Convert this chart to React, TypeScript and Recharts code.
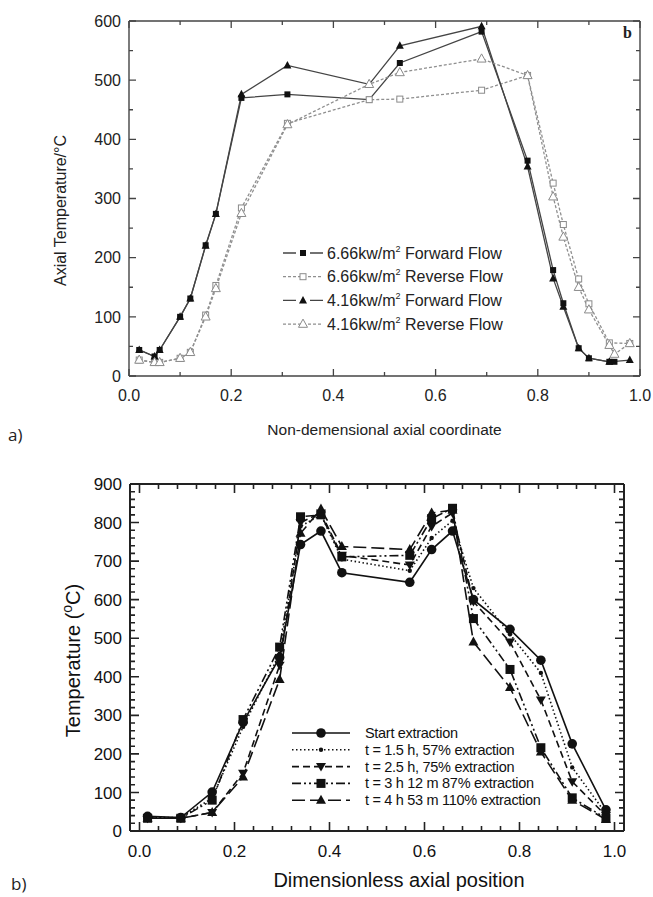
import { LineChart, Line, XAxis, YAxis, Legend, ReferenceLine } from "recharts";

// ---------- a) axial temperature vs non-dimensional coordinate ----------
const fwd666X = [0.02, 0.05, 0.06, 0.1, 0.12, 0.15, 0.17, 0.22, 0.31, 0.47, 0.53, 0.69, 0.78, 0.83, 0.85, 0.88, 0.9, 0.94, 0.95];
const fwd666T = [44, 33, 44, 100, 131, 221, 274, 470, 476, 467, 529, 582, 364, 179, 123, 47, 30, 24, 24];
const rev666X = [0.02, 0.05, 0.06, 0.1, 0.12, 0.15, 0.17, 0.22, 0.31, 0.47, 0.53, 0.69, 0.78, 0.83, 0.85, 0.88, 0.9, 0.94, 0.98];
const rev666T = [27, 23, 23, 30, 40, 103, 153, 284, 427, 467, 468, 483, 508, 326, 256, 164, 122, 56, 55];
const fwd416X = [0.02, 0.05, 0.06, 0.1, 0.12, 0.15, 0.17, 0.22, 0.31, 0.47, 0.53, 0.69, 0.78, 0.83, 0.85, 0.88, 0.9, 0.94, 0.98];
const fwd416T = [44, 33, 44, 100, 131, 220, 274, 476, 525, 493, 558, 591, 354, 165, 117, 47, 30, 24, 27];
const rev416X = [0.02, 0.05, 0.06, 0.1, 0.12, 0.15, 0.17, 0.22, 0.31, 0.47, 0.53, 0.69, 0.78, 0.83, 0.85, 0.88, 0.9, 0.94, 0.95, 0.98];
const rev416T = [27, 23, 23, 30, 40, 100, 148, 275, 425, 493, 513, 536, 508, 303, 235, 150, 112, 52, 37, 55];

const aTicksX = [0, 0.1, 0.2, 0.3, 0.4, 0.5, 0.6, 0.7, 0.8, 0.9, 1];
const aTicksY = [0, 50, 100, 150, 200, 250, 300, 350, 400, 450, 500, 550, 600];

// ---------- b) temperature vs dimensionless axial position ----------
const posB = [0.017, 0.087, 0.153, 0.218, 0.295, 0.339, 0.382, 0.426, 0.569, 0.615, 0.659, 0.703, 0.78, 0.845, 0.911, 0.982];
const startExt = [38, 35, 101, 282, 450, 743, 778, 670, 645, 730, 778, 600, 523, 443, 226, 55];
const t15h = [35, 35, 85, 270, 460, 790, 820, 705, 675, 760, 805, 630, 510, 410, 165, 45];
const t25h = [33, 33, 48, 150, 430, 800, 825, 715, 690, 790, 825, 595, 490, 340, 128, 40];
const t3h12 = [33, 33, 80, 289, 477, 815, 820, 711, 715, 810, 837, 551, 419, 216, 86, 33];
const t4h53 = [33, 33, 48, 140, 393, 772, 835, 738, 730, 825, 832, 490, 372, 205, 80, 30];

// minor tick positions (labels only on the major ones)
const bTicksX = Array.from({ length: 26 }, (_, i) => +(i * 0.04).toFixed(2));
const bTicksY = Array.from({ length: 46 }, (_, i) => i * 20);

const toRows = (xs: number[], ys: number[]) => xs.map((x, i) => ({ x, y: ys[i] }));

const FONT = "'Liberation Sans', Arial, Helvetica, sans-serif";

// chart boxes
const A = { w: 653, h: 440, m: { top: 21, right: 13, bottom: 34, left: 69 }, yw: 60, xh: 30 };
const B = { w: 653, h: 447, m: { top: 34, right: 29, bottom: 36, left: 70 }, yw: 60, xh: 30 };
const plotW = (c: typeof A) => c.w - c.m.left - c.m.right - c.yw;
const plotH = (c: typeof A) => c.h - c.m.top - c.m.bottom - c.xh;

// ---------- markers ----------
const sqFilled = (p: any) => (
  <rect key={p.index} x={p.cx - 3} y={p.cy - 3} width={6} height={6} fill="#111" />
);
const sqOpen = (p: any) => (
  <rect key={p.index} x={p.cx - 3} y={p.cy - 3} width={6} height={6} fill="#fff" stroke="#8a8a8a" strokeWidth={1} />
);
const triFilled = (p: any) => (
  <path key={p.index} d={`M${p.cx},${p.cy - 4.5}L${p.cx - 4},${p.cy + 3}L${p.cx + 4},${p.cy + 3}Z`} fill="#111" />
);
const triOpen = (p: any) => (
  <path key={p.index} d={`M${p.cx},${p.cy - 5}L${p.cx - 4.5},${p.cy + 3.2}L${p.cx + 4.5},${p.cy + 3.2}Z`} fill="#fff" stroke="#8a8a8a" strokeWidth={1} />
);

const bCircle = (p: any) => <circle key={p.index} cx={p.cx} cy={p.cy} r={4.8} fill="#111" />;
const bSmall = (p: any) => <circle key={p.index} cx={p.cx} cy={p.cy} r={2.2} fill="#111" />;
const bTriDown = (p: any) => (
  <path key={p.index} d={`M${p.cx},${p.cy + 5}L${p.cx - 5},${p.cy - 3.5}L${p.cx + 5},${p.cy - 3.5}Z`} fill="#111" />
);
const bSquare = (p: any) => <rect key={p.index} x={p.cx - 4.5} y={p.cy - 4.5} width={9} height={9} fill="#111" />;
const bTriUp = (p: any) => (
  <path key={p.index} d={`M${p.cx},${p.cy - 5.5}L${p.cx - 5},${p.cy + 3.5}L${p.cx + 5},${p.cy + 3.5}Z`} fill="#111" />
);

const seriesA = [
  { name: "6.66kw/m", rest: " Forward Flow", data: toRows(fwd666X, fwd666T), stroke: "#444", dash: undefined, dot: sqFilled },
  { name: "6.66kw/m", rest: " Reverse Flow", data: toRows(rev666X, rev666T), stroke: "#8f8f8f", dash: "3 2", dot: sqOpen },
  { name: "4.16kw/m", rest: " Forward Flow", data: toRows(fwd416X, fwd416T), stroke: "#444", dash: undefined, dot: triFilled },
  { name: "4.16kw/m", rest: " Reverse Flow", data: toRows(rev416X, rev416T), stroke: "#8f8f8f", dash: "3 2", dot: triOpen },
];

const seriesB = [
  { name: "Start extraction", values: startExt, dash: undefined, dot: bCircle },
  { name: "t = 1.5 h, 57% extraction", values: t15h, dash: "1.5 2.5", dot: bSmall },
  { name: "t = 2.5 h, 75% extraction", values: t25h, dash: "7 4", dot: bTriDown },
  { name: "t =  3 h 12 m 87% extraction", values: t3h12, dash: "9 3 2 3 2 3", dot: bSquare },
  { name: "t = 4 h 53 m  110% extraction", values: t4h53, dash: "13 5", dot: bTriUp },
];

// ---------- inward ticks on both opposite sides, drawn from the axis tick ----------
type TickOpts = {
  side: "bottom" | "left";
  major: (v: number) => boolean;
  majorLen: number;
  minorLen: number;
  span: number; // distance to the opposite frame side
  stroke: string;
  strokeWidth: number;
  label: (v: number) => string;
  fontSize: number;
  gap: number;
  color: string;
};

function makeTick(o: TickOpts) {
  return (props: any) => {
    const { payload, index } = props;
    const x = Number(props.x);
    const y = Number(props.y);
    const v = payload.value as number;
    const big = o.major(v);
    const len = big ? o.majorLen : o.minorLen;
    const d =
      o.side === "bottom"
        ? `M${x},${y}V${y - len}M${x},${y - o.span}V${y - o.span + len}`
        : `M${x},${y}H${x + len}M${x + o.span},${y}H${x + o.span - len}`;
    return (
      <g key={index}>
        <path d={d} stroke={o.stroke} strokeWidth={o.strokeWidth} fill="none" />
        {big &&
          (o.side === "bottom" ? (
            <text x={x} y={y + o.gap} textAnchor="middle" fontSize={o.fontSize} fontFamily={FONT} fill={o.color}>
              {o.label(v)}
            </text>
          ) : (
            <text x={x - o.gap} y={y} dy="0.36em" textAnchor="end" fontSize={o.fontSize} fontFamily={FONT} fill={o.color}>
              {o.label(v)}
            </text>
          ))}
      </g>
    );
  };
}

const isMult = (v: number, step: number) => Math.abs(v / step - Math.round(v / step)) < 1e-6;

// ---------- legends ----------
function LegendA() {
  return (
    <svg width={240} height={100} style={{ display: "block", overflow: "visible" }}>
      {seriesA.map((s, i) => {
        const y = 12 + i * 23.7;
        const Dot = s.dot;
        return (
          <g key={i}>
            {s.dash ? (
              <path d={`M0,${y}H40`} stroke={s.stroke} strokeWidth={1.3} strokeDasharray={s.dash} />
            ) : (
              <path d={`M0,${y}H13M27,${y}H40`} stroke={s.stroke} strokeWidth={1.3} />
            )}
            {Dot({ cx: 20, cy: y, index: i })}
            <text x={44} y={y + 5.5} fontSize={16} fontFamily={FONT} fill="#222">
              {s.name}
              <tspan dy={-7} fontSize={9}>2</tspan>
              <tspan dy={7}>{s.rest}</tspan>
            </text>
          </g>
        );
      })}
    </svg>
  );
}

function LegendB() {
  return (
    <svg width={270} height={90} style={{ display: "block", overflow: "visible" }}>
      {seriesB.map((s, i) => {
        const y = 10 + i * 16.8;
        const Dot = s.dot;
        return (
          <g key={i}>
            <path d={`M0,${y}H58`} stroke="#111" strokeWidth={1.6} strokeDasharray={s.dash} />
            {Dot({ cx: 29, cy: y, index: i })}
            <text x={73} y={y + 5} fontSize={14.5} fontFamily={FONT} fill="#111" style={{ letterSpacing: "-0.3px" }}>
              {s.name}
            </text>
          </g>
        );
      })}
    </svg>
  );
}

// ---------- panel a ----------
function ChartA() {
  const ax = "#444";
  return (
    <LineChart width={A.w} height={A.h} margin={A.m}>
      <XAxis
        type="number"
        dataKey="x"
        domain={[0, 1]}
        allowDataOverflow
        ticks={aTicksX}
        interval={0}
        height={A.xh}
        tickSize={0}
        tickMargin={0}
        tickLine={false}
        axisLine={{ stroke: ax, strokeWidth: 1.4 }}
        tick={makeTick({ side: "bottom", major: (v) => isMult(v, 0.2), majorLen: 7, minorLen: 4, span: plotH(A), stroke: ax, strokeWidth: 1.3, label: (v) => v.toFixed(1), fontSize: 16, gap: 25, color: "#222" })}
        label={{
          content: (p: any) => (
            <text x={p.viewBox.x + p.viewBox.width / 2} y={p.viewBox.y + 59} textAnchor="middle" fontSize={15.5} fontFamily={FONT} fill="#222">
              Non-demensional axial coordinate
            </text>
          ),
        }}
      />
      <YAxis
        type="number"
        domain={[0, 600]}
        allowDataOverflow
        ticks={aTicksY}
        interval={0}
        width={A.yw}
        tickSize={0}
        tickMargin={0}
        tickLine={false}
        axisLine={{ stroke: ax, strokeWidth: 1.4 }}
        tick={makeTick({ side: "left", major: (v) => isMult(v, 100), majorLen: 7, minorLen: 4, span: plotW(A), stroke: ax, strokeWidth: 1.3, label: (v) => String(v), fontSize: 16, gap: 8, color: "#222" })}
        label={{
          content: (p: any) => {
            const cx = 66;
            const cy = p.viewBox.y + p.viewBox.height / 2 + 12;
            return (
              <text x={cx} y={cy} transform={`rotate(-90 ${cx} ${cy})`} textAnchor="middle" fontSize={16} fontFamily={FONT} fill="#222">
                Axial Temperature/°C
              </text>
            );
          },
        }}
      />
      <ReferenceLine y={600} stroke={ax} strokeWidth={1.4} />
      <ReferenceLine x={1} stroke={ax} strokeWidth={1.4} />
      {seriesA.map((s, i) => (
        <Line
          key={i}
          data={s.data}
          dataKey="y"
          name={s.name + "2" + s.rest}
          stroke={s.stroke}
          strokeWidth={1.3}
          strokeDasharray={s.dash}
          dot={s.dot}
          activeDot={false}
          isAnimationActive={false}
        />
      ))}
      <Legend
        layout="vertical"
        align="center"
        verticalAlign="middle"
        content={() => <LegendA />}
        wrapperStyle={{ left: 283, top: 241, width: 240, height: 100 }}
      />
    </LineChart>
  );
}

// ---------- panel b ----------
function ChartB() {
  const ax = "#222";
  const rows = seriesB.map((s) => toRows(posB, s.values));
  return (
    <LineChart width={B.w} height={B.h} margin={B.m}>
      <XAxis
        type="number"
        dataKey="x"
        domain={[-0.02, 1.02]}
        allowDataOverflow
        ticks={bTicksX}
        interval={0}
        height={B.xh}
        tickSize={0}
        tickMargin={0}
        tickLine={false}
        axisLine={{ stroke: ax, strokeWidth: 2 }}
        tick={makeTick({ side: "bottom", major: (v) => isMult(v, 0.2), majorLen: 9, minorLen: 5, span: plotH(B), stroke: ax, strokeWidth: 1.6, label: (v) => v.toFixed(1), fontSize: 17, gap: 26, color: "#111" })}
        label={{
          content: (p: any) => (
            <text x={p.viewBox.x + p.viewBox.width / 2 + 22} y={p.viewBox.y + 56} textAnchor="middle" fontSize={20} fontFamily={FONT} fill="#111">
              Dimensionless axial position
            </text>
          ),
        }}
      />
      <YAxis
        type="number"
        domain={[0, 900]}
        allowDataOverflow
        ticks={bTicksY}
        interval={0}
        width={B.yw}
        tickSize={0}
        tickMargin={0}
        tickLine={false}
        axisLine={{ stroke: ax, strokeWidth: 2 }}
        tick={makeTick({ side: "left", major: (v) => isMult(v, 100), majorLen: 9, minorLen: 5, span: plotW(B), stroke: ax, strokeWidth: 1.6, label: (v) => String(v), fontSize: 17, gap: 8, color: "#111" })}
        label={{
          content: (p: any) => {
            const cx = 80;
            const cy = p.viewBox.y + p.viewBox.height / 2 + 3;
            return (
              <text x={cx} y={cy} transform={`rotate(-90 ${cx} ${cy})`} textAnchor="middle" fontSize={20} fontFamily={FONT} fill="#111">
                Temperature (<tspan dy={-8} fontSize={14}>o</tspan>
                <tspan dy={8}>C)</tspan>
              </text>
            );
          },
        }}
      />
      <ReferenceLine y={900} stroke={ax} strokeWidth={2} />
      <ReferenceLine x={1.02} stroke={ax} strokeWidth={2} />
      {seriesB.map((s, i) => (
        <Line
          key={i}
          data={rows[i]}
          dataKey="y"
          name={s.name}
          stroke="#111"
          strokeWidth={1.6}
          strokeDasharray={s.dash}
          dot={s.dot}
          activeDot={false}
          isAnimationActive={false}
        />
      ))}
      <Legend
        layout="vertical"
        align="center"
        verticalAlign="middle"
        content={() => <LegendB />}
        wrapperStyle={{ left: 292, top: 273, width: 270, height: 90 }}
      />
    </LineChart>
  );
}

export default function App() {
  return (
    <div style={{ position: "absolute", left: 0, top: 0, width: 653, height: 897, background: "#fff" }}>
      <div style={{ position: "absolute", left: 0, top: 0 }}>
        <ChartA />
      </div>
      <div style={{ position: "absolute", left: 0, top: 450 }}>
        <ChartB />
      </div>
      <svg width={653} height={897} style={{ position: "absolute", left: 0, top: 0, pointerEvents: "none" }}>
        <text x={623} y={38} fontSize={16} fontWeight="bold" fontFamily="'Liberation Serif', 'Times New Roman', serif" fill="#222">
          b
        </text>
        <text x={8} y={441} fontSize={17} fontFamily="'Open Sans', sans-serif" fill="#222">
          a)
        </text>
        <text x={11} y={890} fontSize={17} fontFamily="'Open Sans', sans-serif" fill="#222">
          b)
        </text>
      </svg>
    </div>
  );
}
